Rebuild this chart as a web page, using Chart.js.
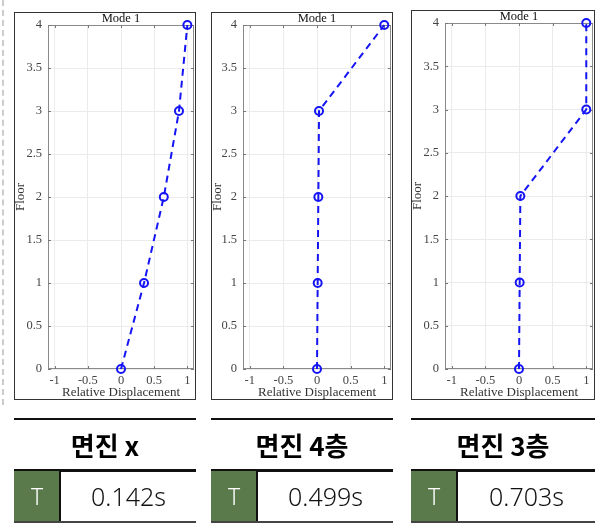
<!DOCTYPE html>
<html><head><meta charset="utf-8">
<script src="https://cdn.jsdelivr.net/npm/chart.js@4.4.0/dist/chart.umd.min.js"></script>
<style>
body{margin:0;width:607px;height:525px;background:#fff;position:relative;overflow:hidden;}
.abs{position:absolute;box-sizing:border-box;}
.frame{border:1.5px solid #333;pointer-events:none;}
.ttl{font-family:"Noto Sans CJK KR",sans-serif;font-weight:bold;font-size:26px;line-height:34px;text-align:center;color:#000;}
.cell{background:#5b7a4b;color:#fff;font-family:"Noto Sans","Noto Sans CJK KR",sans-serif;font-weight:300;font-size:23px;line-height:50px;text-align:center;}
.val{font-family:"Noto Sans","Noto Sans CJK KR",sans-serif;font-weight:300;font-size:25px;line-height:50px;text-align:center;color:#111;}
</style></head><body>
<div class="abs" style="left:2px;top:0;width:0;height:405px;border-left:2px dashed #ccc;"></div>
<script>
// ---- data ----
const floors = [0, 1, 2, 3, 4];
const dispNoIso = [0, 0.347, 0.645, 0.874, 1];
const dispIso4 = [0, 0.01, 0.02, 0.03, 1];
const dispIso3 = [0, 0.01, 0.02, 1, 1];
const xTicks = [-1, -0.5, 0, 0.5, 1];
const yTicks = [0, 0.5, 1, 1.5, 2, 2.5, 3, 3.5, 4];
const modeTitle = 'Mode 1';
const xTitle = 'Relative Displacement';
const yTitle = 'Floor';
const caseNames = ['면진 x', '면진 4층', '면진 3층'];
const periods = ['0.142s', '0.499s', '0.703s'];
const seriesList = [dispNoIso, dispIso4, dispIso3];

// ---- layout (pixels) ----
const layouts = [
  {frame:[14,12,195,400], plot:[48,25,194,369]},
  {frame:[211,12,392,400], plot:[243,25,391,369]},
  {frame:[411,10,594,400], plot:[445,23,593,369]}
];

const boxPlugin = {
  id:'boxPlugin',
  beforeDatasetsDraw(chart){
    const {ctx, chartArea:a, scales:{x,y}} = chart;
    ctx.save();
    ctx.strokeStyle = '#8a8a8a';
    ctx.lineWidth = 1;
    ctx.strokeRect(a.left+0.5, a.top+0.5, a.right-a.left-1, a.bottom-a.top-1);
    ctx.strokeStyle = '#777';
    ctx.beginPath();
    x.ticks.forEach(t=>{
      const px = Math.round(x.getPixelForValue(t.value))+0.5;
      ctx.moveTo(px,a.bottom); ctx.lineTo(px,a.bottom-3);
      ctx.moveTo(px,a.top); ctx.lineTo(px,a.top+3);
    });
    y.ticks.forEach(t=>{
      const py = Math.round(y.getPixelForValue(t.value))+0.5;
      ctx.moveTo(a.left,py); ctx.lineTo(a.left+3,py);
      ctx.moveTo(a.right,py); ctx.lineTo(a.right-3,py);
    });
    ctx.stroke();
    ctx.restore();
  }
};

layouts.forEach((L, i) => {
  const [fl, ft, fr, fb] = L.frame;
  const [pl, pt, pr, pb] = L.plot;
  const W = fr - fl, H = fb - ft;
  const wrap = document.createElement('div');
  wrap.className = 'abs';
  wrap.style.cssText = `left:${fl}px;top:${ft}px;width:${W}px;height:${H}px;`;
  const cv = document.createElement('canvas');
  cv.width = W; cv.height = H;
  cv.style.cssText = `width:${W}px;height:${H}px;display:block;`;
  wrap.appendChild(cv);
  document.body.appendChild(wrap);
  const fr2 = document.createElement('div');
  fr2.className = 'abs frame';
  fr2.style.cssText = `left:${fl}px;top:${ft}px;width:${W+1}px;height:${H}px;`;
  document.body.appendChild(fr2);

  const serif = 'Liberation Serif';
  new Chart(cv, {
    type:'scatter',
    data:{datasets:[{
      data: floors.map((f, k) => ({x: seriesList[i][k], y: f})),
      showLine:true,
      borderColor:'#1414f5',
      borderWidth:2,
      borderDash:[7,5],
      pointRadius:4,
      pointBorderWidth:2,
      pointBorderColor:'#1414f5',
      pointBackgroundColor:'rgba(0,0,0,0)',
      clip:false
    }]},
    options:{
      responsive:false, animation:false, events:[],
      layout:{autoPadding:false, padding:{left:0, top:0, right:fr - pr, bottom:0}},
      plugins:{
        legend:{display:false}, tooltip:{enabled:false},
        title:{display:true, text:modeTitle, fullSize:false, color:'#111',
          font:{family:serif, size:12.5, lineHeight:1, weight:'normal'}, padding:{top:0.5, bottom:(pt-ft)-13}}
      },
      scales:{
        x:{type:'linear', min:-1.1, max:1.1,
          afterBuildTicks(s){ s.ticks = xTicks.map(v=>({value:v})); },
          afterFit(s){ s.height = fb - pb; s.paddingLeft = 0; s.paddingRight = 0; },
          grid:{color:'#ebebeb', drawTicks:false},
          border:{display:false},
          ticks:{padding:4, color:'#444', font:{family:serif, size:12.5}, maxRotation:0, autoSkip:false,
            callback:v=>String(v)},
          title:{display:true, text:xTitle, color:'#333', font:{family:serif, size:13, lineHeight:1}, padding:{top:0,bottom:1}}
        },
        y:{type:'linear', min:0, max:4,
          afterBuildTicks(s){ s.ticks = yTicks.map(v=>({value:v})); },
          afterFit(s){ s.width = pl - fl; s.paddingTop = 0; s.paddingBottom = 0; },
          grid:{color:'#ebebeb', drawTicks:false},
          border:{display:false},
          ticks:{padding:6, color:'#444', font:{family:serif, size:12.5}, autoSkip:false,
            callback:v=>String(v)},
          title:{display:true, text:yTitle, color:'#333', font:{family:serif, size:13, lineHeight:1}, padding:{top:0,bottom:0}}
        }
      }
    },
    plugins:[boxPlugin]
  });

  // bottom table
  const add = (cls, css, txt) => {
    const d = document.createElement('div');
    d.className = 'abs ' + cls; d.style.cssText = css;
    if (txt !== undefined) d.textContent = txt;
    document.body.appendChild(d);
  };
  const cw = 46;
  add('', `left:${fl}px;top:418px;width:${W+1}px;height:2px;background:#111;`);
  add('ttl', `left:${fl}px;top:428px;width:${W+1}px;height:34px;`, caseNames[i]);
  add('', `left:${fl}px;top:469px;width:${W+1}px;height:2.5px;background:#111;`);
  add('cell', `left:${fl}px;top:471px;width:${cw}px;height:50px;`, 'T');
  add('', `left:${fl+cw-1}px;top:471px;width:2px;height:50px;background:#111;`);
  add('val', `left:${fl+cw+1}px;top:471px;width:${W-cw}px;height:50px;`, periods[i]);
  add('', `left:${fl}px;top:520.5px;width:${W+1}px;height:2px;background:#444;`);
});
</script>
</body></html>
